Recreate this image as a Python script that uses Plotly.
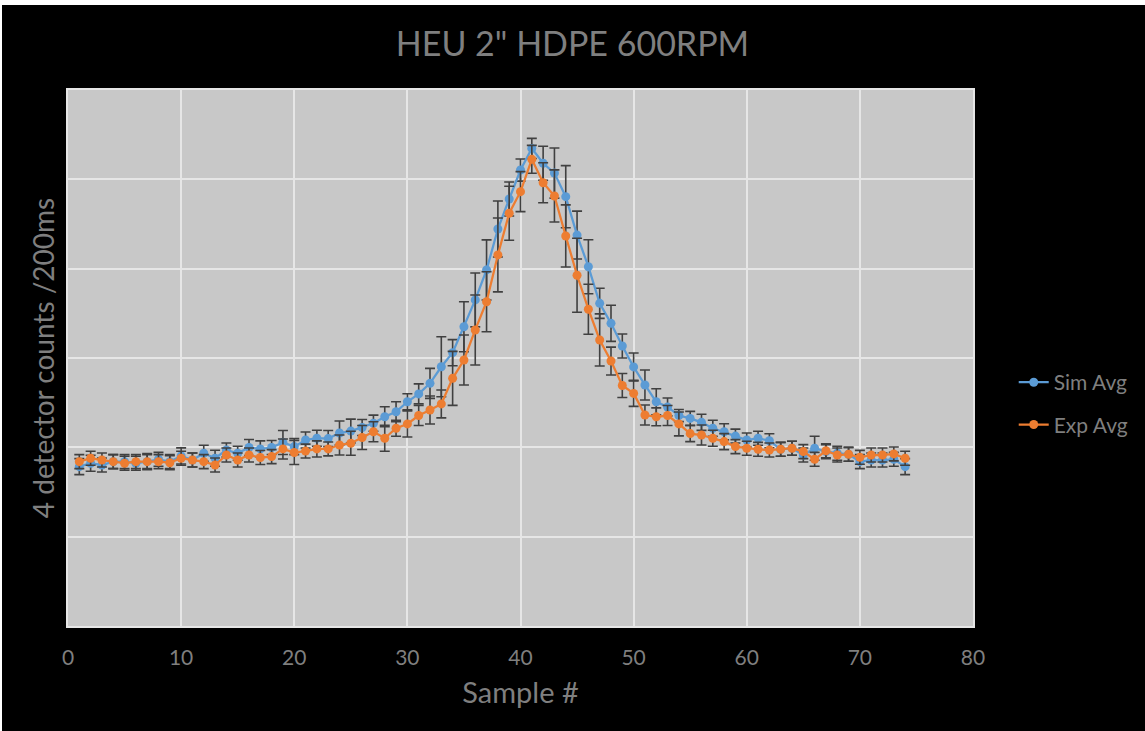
import plotly.graph_objects as go

# Sample index along the scan
samples = list(range(1, 75))

# Simulated average counts and their error (half-width)
sim_avg = [892, 911, 901, 920, 920, 911, 920, 933, 920, 952,
           929, 967, 939, 985, 967, 999, 991, 999, 1027, 1004,
           1041, 1051, 1049, 1080, 1091, 1111, 1135, 1171, 1199, 1255,
           1299, 1358, 1451, 1530, 1675, 1825, 1993, 2222, 2390, 2552,
           2673, 2590, 2535, 2403, 2188, 2011, 1806, 1694, 1567, 1450,
           1349, 1255, 1226, 1178, 1162, 1140, 1107, 1087, 1063, 1041,
           1051, 1037, 989, 995, 957, 995, 976, 967, 961, 920,
           929, 929, 933, 892]
sim_err = [45, 45, 39, 39, 39, 39, 45, 39, 39, 45,
           39, 45, 45, 39, 39, 45, 45, 39, 67, 45,
           45, 45, 45, 67, 67, 45, 45, 56, 56, 45,
           56, 84, 168, 73, 140, 151, 168, 157, 95, 62,
           56, 95, 140, 174, 134, 151, 84, 101, 67, 78,
           84, 73, 50, 34, 39, 45, 45, 45, 39, 39,
           39, 39, 39, 39, 39, 67, 39, 39, 39, 39,
           39, 39, 39, 45]

# Experimental average counts and their error (half-width)
exp_avg = [920, 939, 929, 920, 911, 920, 920, 920, 914, 939,
           929, 920, 901, 957, 929, 957, 943, 948, 991, 971,
           979, 991, 991, 1013, 1023, 1055, 1087, 1051, 1107, 1131,
           1178, 1209, 1243, 1386, 1489, 1657, 1815, 2077, 2310, 2431,
           2612, 2481, 2407, 2183, 1963, 1773, 1601, 1483, 1346, 1302,
           1181, 1171, 1178, 1131, 1077, 1069, 1051, 1032, 1004, 995,
           989, 985, 989, 995, 976, 933, 981, 957, 961, 944,
           957, 957, 963, 939]
exp_err = [39, 39, 39, 39, 39, 39, 39, 39, 39, 39,
           39, 39, 39, 39, 39, 39, 39, 39, 56, 67,
           39, 45, 39, 56, 67, 67, 56, 73, 45, 73,
           56, 78, 78, 151, 140, 196, 168, 207, 151, 112,
           78, 112, 146, 174, 207, 140, 146, 78, 67, 73,
           56, 50, 56, 67, 45, 56, 45, 45, 39, 39,
           39, 39, 39, 39, 39, 39, 39, 39, 39, 39,
           39, 39, 39, 39]

x_ticks = [0, 10, 20, 30, 40, 50, 60, 70, 80]

FONT = "Lato, 'Open Sans', sans-serif"
TEXT_GREY = "#7f7f7f"
BLUE = "#5b9bd5"
ORANGE = "#ed7d31"
ERR = "#404040"

fig = go.Figure()

fig.add_trace(go.Scatter(
    x=samples, y=sim_avg, name="Sim Avg", mode="lines+markers",
    legendgroup="sim",
    line=dict(color=BLUE, width=2.25),
    marker=dict(size=9, color=BLUE),
    error_y=dict(type="data", array=sim_err, color=ERR, thickness=1.6, width=5),
))
fig.add_trace(go.Scatter(
    x=samples, y=exp_avg, name="Exp Avg", mode="lines+markers",
    legendgroup="exp",
    line=dict(color=ORANGE, width=2.25),
    marker=dict(size=9, color=ORANGE),
    error_y=dict(type="data", array=exp_err, color=ERR, thickness=1.6, width=5),
))

fig.update_layout(
    width=1145, height=731,
    paper_bgcolor="#000000",
    plot_bgcolor="#c8c8c8",
    margin=dict(l=68, r=172, t=90, b=105),
    font=dict(family=FONT, color=TEXT_GREY),
    title=dict(text='HEU 2" HDPE 600RPM', x=0.5, xanchor="center",
               y=0.94, yanchor="middle",
               font=dict(size=34, color=TEXT_GREY, family=FONT)),
    showlegend=True,
    legend=dict(x=1.045, y=0.415, xanchor="left", yanchor="middle",
                bgcolor="rgba(0,0,0,0)", font=dict(size=21, color=TEXT_GREY),
                tracegroupgap=12),
    xaxis=dict(
        range=[0, 80], tickvals=x_ticks, ticks="",
        showgrid=True, gridcolor="#e6e6e6", gridwidth=2,
        zeroline=False, showline=True, linecolor="#e6e6e6", linewidth=2, mirror=True,
        tickfont=dict(size=21, color=TEXT_GREY), ticklabelstandoff=12,
        title=dict(text="Sample #", font=dict(size=29, color=TEXT_GREY), standoff=14),
    ),
    yaxis=dict(
        range=[0, 3000], dtick=500, ticks="",
        showgrid=True, gridcolor="#e6e6e6", gridwidth=2,
        zeroline=False, showline=True, linecolor="#e6e6e6", linewidth=2, mirror=True,
        showticklabels=False,
        title=dict(text="4 detector counts /200ms", font=dict(size=28, color=TEXT_GREY), standoff=3),
    ),
)

# thin white frame strips along the top and left edges of the picture
fig.add_shape(type="rect", xref="paper", yref="paper",
              x0=-68 / 905, x1=(1145 - 68) / 905,
              y0=(626 - 5) / 536, y1=626 / 536,
              fillcolor="#ffffff", line=dict(width=0), layer="above")
fig.add_shape(type="rect", xref="paper", yref="paper",
              x0=-68 / 905, x1=-66 / 905,
              y0=-105 / 536, y1=626 / 536,
              fillcolor="#ffffff", line=dict(width=0), layer="above")

fig.write_html("out.html")
